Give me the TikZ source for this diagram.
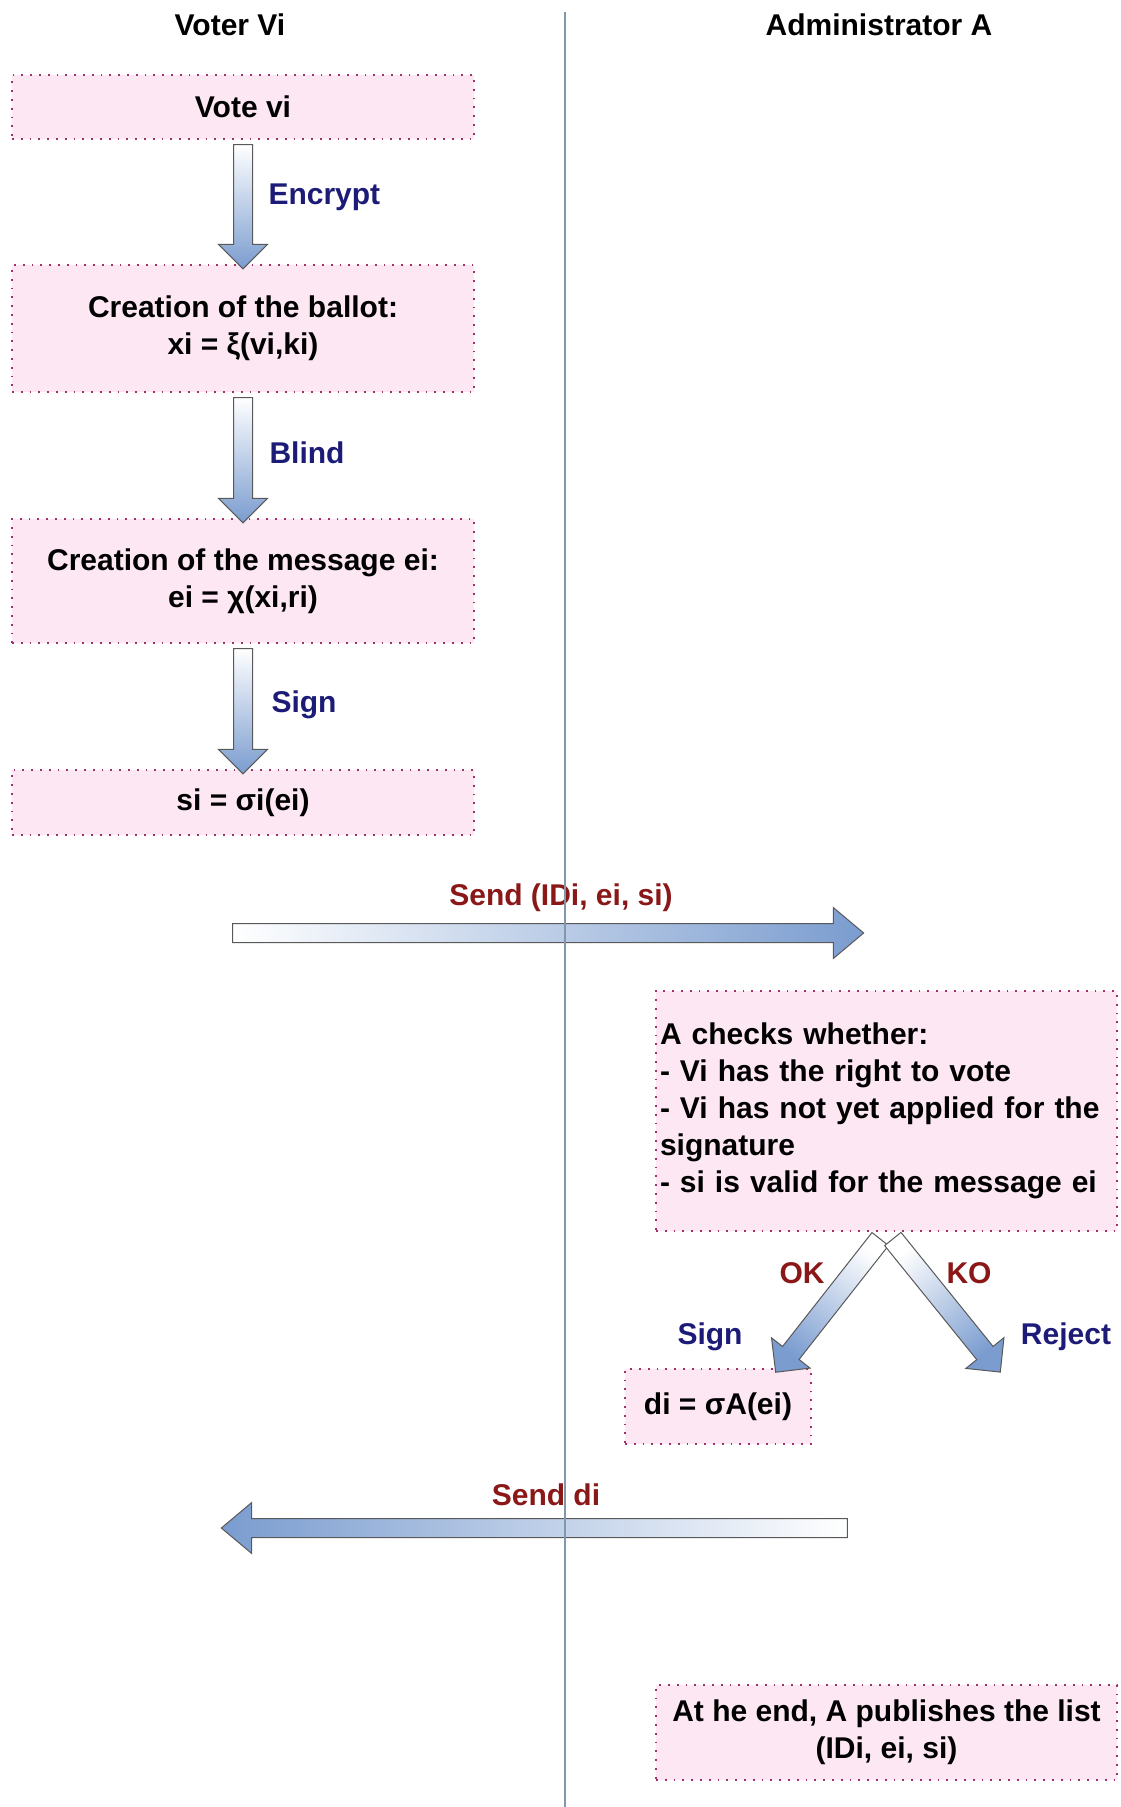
\documentclass[tikz,border=0pt]{standalone}
\usepackage{fontspec}
\setmainfont{Liberation Sans}
\usetikzlibrary{calc,shapes.arrows}
\definecolor{boxpink}{HTML}{FDE7F3}
\definecolor{boxdots}{HTML}{A0306E}
\definecolor{laneblue}{HTML}{8397AB}
\definecolor{lblblue}{HTML}{1C1C78}
\definecolor{lblred}{HTML}{8A1818}
\definecolor{arrowblue}{HTML}{7A9CCF}

% block arrow from #2 to #3, extra keys in #1
\newcommand\fatarrow[3][]{%
  \path let \p1=($(#3)-(#2)$), \n1={veclen(\x1,\y1)}, \n2={atan2(\y1,\x1)},
    \n3={\n2+90} in
    node[blockarrow,#1,minimum height=\n1,rotate=\n2,shading angle=\n3]
      at ($(#2)!0.5!(#3)$) {};}

\begin{document}
\begin{tikzpicture}[
    x=1pt,y=-1pt,
    font=\fontsize{30}{37}\selectfont\bfseries,
    stepbox/.style={draw=boxdots,line width=1.8pt,dash pattern=on 1.8pt off 7pt,
      fill=boxpink,minimum width=462pt,inner sep=4pt,align=center},
    blockarrow/.style={single arrow,draw=black!65,line width=1pt,
      top color=white,bottom color=arrowblue,inner xsep=0pt,inner ysep=9pt,
      outer sep=0pt,single arrow head extend=15pt,single arrow tip angle=90},
    bluelbl/.style={text=lblblue},
    redlbl/.style={text=lblred},
    lane/.style={laneblue,line width=1.3pt},
  ]
    \useasboundingbox (0,0) rectangle (1120,1807);

    \node (voter) at (230,25) {Voter Vi};
    \node (admin) at (879,25) {Administrator A};

    % voter side
    \node[stepbox,minimum height=64pt] (vote) at (243,107) {Vote vi};
    \node[stepbox,minimum height=127pt] (ballot) at (243,328.5)
      {Creation of the ballot:\\xi = ξ(vi,ki)};
    \node[stepbox,minimum height=124pt] (message) at (243,581)
      {Creation of the message ei:\\ei = χ(xi,ri)};
    \node[stepbox,minimum height=65pt] (sig) at (243,802.5) {si = σi(ei)};

    \fatarrow{vote.south}{ballot.north}
    \fatarrow{ballot.south}{message.north}
    \fatarrow{message.south}{sig.north}
    \node[bluelbl,anchor=west] (encrypt) at (265,197) {Encrypt};
    \node[bluelbl,anchor=west] (blind) at (266,453) {Blind};
    \node[bluelbl,anchor=west] (signv) at (268,705) {Sign};

    % send to administrator
    \coordinate (sendtail) at (227,933);
    \coordinate (sendtip) at (858,933);
    \fatarrow[single arrow head extend=16pt,single arrow tip angle=80]{sendtail}{sendtip}
    \node[redlbl] (sendlbl) at (561,898) {Send (IDi, ei, si)};

    % administrator side
    \node[stepbox,minimum width=461pt,minimum height=240pt,text width=453pt,
      align=left] (checks) at (886.5,1111)
      {A checks whether:\\- Vi has the right to vote\\- Vi has not yet applied for the\\signature\\- si is valid for the message ei};
    \node[stepbox,minimum width=186pt,minimum height=75pt] (di) at (718,1406.5)
      {di = σA(ei)};

    \coordinate (oktail) at ([xshift=-3pt,yshift=-3pt]checks.south);
    \coordinate (kotail) at ([xshift=3pt,yshift=-3pt]checks.south);
    \coordinate (oktip) at ([xshift=-33pt]di.north east);
    \coordinate (kotip) at (997,1368);
    \fatarrow[inner ysep=10pt,single arrow head extend=14pt]{oktail}{oktip}
    \fatarrow[inner ysep=10pt,single arrow head extend=14pt]{kotail}{kotip}
    \node[redlbl] (ok) at (802,1273) {OK};
    \node[redlbl] (ko) at (969,1273) {KO};
    \node[bluelbl] (signa) at (710,1337) {Sign};
    \node[bluelbl] (reject) at (1066,1337) {Reject};

    % send back to voter
    \coordinate (backtail) at (853,1528);
    \coordinate (backtip) at (227,1528);
    \fatarrow[single arrow head extend=16pt,single arrow tip angle=80]{backtail}{backtip}
    \node[redlbl] (backlbl) at (546,1495) {Send di};

    \node[stepbox,minimum width=461pt,minimum height=95pt] (final) at (886.5,1732.5)
      {At he end, A publishes the list\\(IDi, ei, si)};

    % lane separator
    \coordinate (lanetop) at (565,12);
    \coordinate (lanebot) at (565,1807);
    \draw[lane] (lanetop) -- (lanebot);
  \end{tikzpicture}
\end{document}
